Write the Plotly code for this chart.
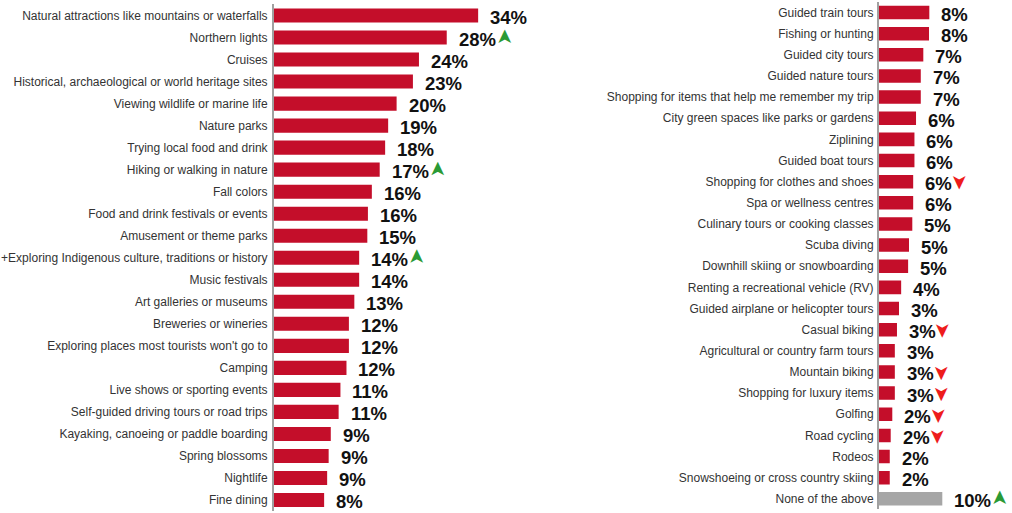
import plotly.graph_objects as go

# ---------------- data ----------------
left_categories = [
    "Natural attractions like mountains or waterfalls", "Northern lights", "Cruises",
    "Historical, archaeological or world heritage sites", "Viewing wildlife or marine life",
    "Nature parks", "Trying local food and drink", "Hiking or walking in nature", "Fall colors",
    "Food and drink festivals or events", "Amusement or theme parks",
    "+Exploring Indigenous culture, traditions or history", "Music festivals",
    "Art galleries or museums", "Breweries or wineries", "Exploring places most tourists won't go to",
    "Camping", "Live shows or sporting events", "Self-guided driving tours or road trips",
    "Kayaking, canoeing or paddle boarding", "Spring blossoms", "Nightlife", "Fine dining",
]
left_values = [33.8, 28.6, 24.0, 23.0, 20.3, 18.9, 18.4, 17.5, 16.2, 15.55, 15.45, 14.1, 14.1,
               13.3, 12.4, 12.4, 12.0, 11.0, 10.7, 9.4, 9.05, 8.8, 8.3]
left_labels = ["34%", "28%", "24%", "23%", "20%", "19%", "18%", "17%", "16%", "16%", "15%", "14%",
               "14%", "13%", "12%", "12%", "12%", "11%", "11%", "9%", "9%", "9%", "8%"]
left_trend = ["", "up", "", "", "", "", "", "up", "", "", "", "up", "", "", "", "", "", "", "",
              "", "", "", ""]

right_categories = [
    "Guided train tours", "Fishing or hunting", "Guided city tours", "Guided nature tours",
    "Shopping for items that help me remember my trip", "City green spaces like parks or gardens",
    "Ziplining", "Guided boat tours", "Shopping for clothes and shoes", "Spa or wellness centres",
    "Culinary tours or cooking classes", "Scuba diving", "Downhill skiing or snowboarding",
    "Renting a recreational vehicle (RV)", "Guided airplane or helicopter tours", "Casual biking",
    "Agricultural or country farm tours", "Mountain biking", "Shopping for luxury items", "Golfing",
    "Road cycling", "Rodeos", "Snowshoeing or cross country skiing", "None of the above",
]
right_values = [7.95, 7.9, 7.0, 6.6, 6.6, 5.85, 5.6, 5.6, 5.4, 5.4, 5.26, 4.74, 4.6, 3.5, 3.16,
                2.84, 2.5, 2.5, 2.5, 2.1, 1.85, 1.7, 1.7, 10.0]
right_labels = ["8%", "8%", "7%", "7%", "7%", "6%", "6%", "6%", "6%", "6%", "5%", "5%", "5%", "4%",
                "3%", "3%", "3%", "3%", "3%", "2%", "2%", "2%", "2%", "10%"]
right_trend = ["", "", "", "", "", "", "", "", "down", "", "", "", "", "", "", "down", "", "down",
               "down", "down", "down", "", "", "up"]

# ---------------- styling ----------------
RED = "#C40E2A"
GREY = "#A6A6A6"
UP = "#2A9A35"
DOWN = "#EE1C1C"
W, H = 1012, 513
LEFT_AXIS_PX, LEFT_PX_PER = 274, 6.04
RIGHT_AXIS_PX, RIGHT_PX_PER = 879, 6.33
LEFT_END_PX = 545
VAL_FS = 18.5
CAT_FONT = dict(family="Liberation Sans, Arial, sans-serif", size=12, color="#333333")

fig = go.Figure()
fig.add_trace(go.Bar(
    x=left_values, y=left_categories, orientation="h", xaxis="x", yaxis="y",
    marker=dict(color=RED, line=dict(width=0)), hoverinfo="skip", showlegend=False))
right_colors = [GREY if c == "None of the above" else RED for c in right_categories]
fig.add_trace(go.Bar(
    x=right_values, y=right_categories, orientation="h", xaxis="x2", yaxis="y2",
    marker=dict(color=right_colors, line=dict(width=0)), hoverinfo="skip", showlegend=False))


def text_width(s, fs):
    w = 0
    for ch in s:
        w += 0.889 * fs if ch == "%" else 0.556 * fs
    return w


annotations = []
for cats, vals, labs, trends, xr, yr in [
    (left_categories, left_values, left_labels, left_trend, "x", "y"),
    (right_categories, right_values, right_labels, right_trend, "x2", "y2"),
]:
    for c, v, lab, t in zip(cats, vals, labs, trends):
        annotations.append(dict(
            x=v, y=c, xref=xr, yref=yr, text="<b>%s</b>" % lab, showarrow=False,
            xanchor="left", yanchor="middle", xshift=10, yshift=-2,
            font=dict(family="Liberation Sans, Arial, sans-serif", size=VAL_FS, color="#111111")))
        if t:
            annotations.append(dict(
                x=v, y=c, xref=xr, yref=yr, text="➤", showarrow=False,
                xanchor="center", yanchor="middle",
                xshift=10 + text_width(lab, VAL_FS) + 3 + 7, yshift=(1 if t == "up" else -1),
                textangle=(-90 if t == "up" else 90),
                font=dict(family="DejaVu Sans", size=20, color=UP if t == "up" else DOWN)))

nL, nR = len(left_categories), len(right_categories)
fig.update_layout(
    width=W, height=H, margin=dict(l=0, r=0, t=0, b=0),
    paper_bgcolor="white", plot_bgcolor="white",
    bargap=0.36, showlegend=False,
    xaxis=dict(domain=[LEFT_AXIS_PX / W, LEFT_END_PX / W],
               range=[0, (LEFT_END_PX - LEFT_AXIS_PX) / LEFT_PX_PER],
               visible=False, fixedrange=True),
    xaxis2=dict(domain=[RIGHT_AXIS_PX / W, 1.0],
                range=[0, (W - RIGHT_AXIS_PX) / RIGHT_PX_PER],
                visible=False, fixedrange=True),
    yaxis=dict(domain=[1 - 511.0 / H, 1 - 4.49 / H], anchor="x",
               categoryorder="array", categoryarray=left_categories,
               range=[nL - 0.5, -0.5], autorange=False, showgrid=False, zeroline=False,
               showline=True, linecolor="#A0A0A0", linewidth=2, fixedrange=True,
               ticks="", ticklabelstandoff=2, tickfont=CAT_FONT),
    yaxis2=dict(domain=[1 - 509.4 / H, 1 - 1.93 / H], anchor="x2",
                categoryorder="array", categoryarray=right_categories,
                range=[nR - 0.5, -0.5], autorange=False, showgrid=False, zeroline=False,
                showline=True, linecolor="#A0A0A0", linewidth=2, fixedrange=True,
                ticks="", ticklabelstandoff=1, tickfont=CAT_FONT),
    annotations=annotations,
)

fig.write_html("out.html", config={"displayModeBar": False},
               post_script="document.body.style.margin='0px';"
               "document.body.style.padding='0px';document.body.style.overflow='hidden';")
